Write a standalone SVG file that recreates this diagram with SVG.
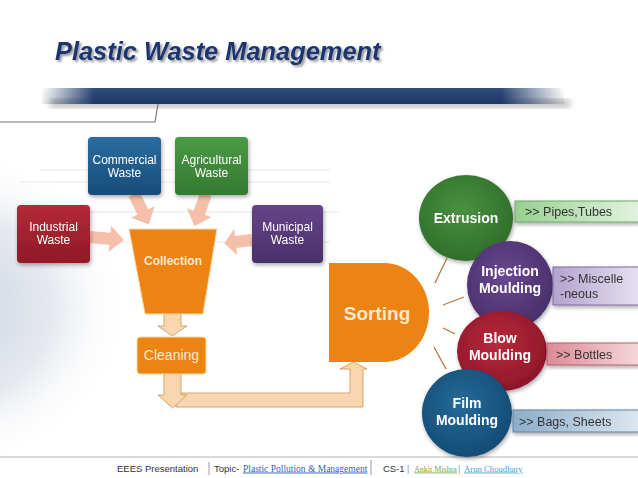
<svg xmlns="http://www.w3.org/2000/svg" xmlns:xlink="http://www.w3.org/1999/xlink" width="638" height="478" viewBox="0 0 638 478">
<defs>
<style>
.nt{font-family:"Liberation Sans",Arial,sans-serif;font-size:12px;fill:#fff;text-anchor:middle}
.ct{font-family:"Liberation Sans",Arial,sans-serif;font-size:14px;font-weight:bold;fill:#fff;text-anchor:middle}
.lt{font-family:"Liberation Sans",Arial,sans-serif;font-size:12.5px;fill:#333}
.ft{font-family:"Liberation Sans",Arial,sans-serif;font-size:9.5px;fill:#333}
.in{fill:#f4b8a0;opacity:0.9}
.tan{fill:#f7d6b0;stroke:#d6a468;stroke-width:1}
.sl{stroke:#b27b3c;stroke-width:1.3;fill:none}
</style>
<filter id="sh" x="-20%" y="-20%" width="140%" height="140%"><feGaussianBlur in="SourceAlpha" stdDeviation="2"/><feOffset dx="1" dy="2"/><feComponentTransfer><feFuncA type="linear" slope="0.35"/></feComponentTransfer><feMerge><feMergeNode/><feMergeNode in="SourceGraphic"/></feMerge></filter>
<filter id="tsh" x="-5%" y="-30%" width="110%" height="160%"><feGaussianBlur in="SourceAlpha" stdDeviation="0.8"/><feOffset dx="2" dy="2"/><feComponentTransfer><feFuncA type="linear" slope="0.4"/></feComponentTransfer><feMerge><feMergeNode/><feMergeNode in="SourceGraphic"/></feMerge></filter>
<filter id="bl"><feGaussianBlur stdDeviation="3"/></filter>
<linearGradient id="bar" x1="0" x2="1" y1="0" y2="0"><stop offset="0" stop-color="#1e3c6e" stop-opacity="0"/><stop offset="0.1" stop-color="#1e3c6e"/><stop offset="0.88" stop-color="#1e3c6e"/><stop offset="1" stop-color="#1e3c6e" stop-opacity="0"/></linearGradient>
<linearGradient id="barv" x1="0" x2="0" y1="0" y2="1"><stop offset="0" stop-color="#fff" stop-opacity="0.15"/><stop offset="1" stop-color="#000" stop-opacity="0.1"/></linearGradient>
<radialGradient id="bg" cx="0" cy="0.55" r="0.45"><stop offset="0" stop-color="#c9d0dc"/><stop offset="0.6" stop-color="#e6e9ef"/><stop offset="1" stop-color="#fff" stop-opacity="0"/></radialGradient>
<linearGradient id="gBlue" x1="0" x2="0" y1="0" y2="1"><stop offset="0" stop-color="#2a6d9f"/><stop offset="1" stop-color="#174d7a"/></linearGradient>
<linearGradient id="gGreen" x1="0" x2="0" y1="0" y2="1"><stop offset="0" stop-color="#4a9a44"/><stop offset="1" stop-color="#347a31"/></linearGradient>
<linearGradient id="gRed" x1="0" x2="0" y1="0" y2="1"><stop offset="0" stop-color="#b42a38"/><stop offset="1" stop-color="#8e1a27"/></linearGradient>
<linearGradient id="gPurp" x1="0" x2="0" y1="0" y2="1"><stop offset="0" stop-color="#664488"/><stop offset="1" stop-color="#4b2f6a"/></linearGradient>
<radialGradient id="cGreen" cx="0.45" cy="0.4" r="0.6"><stop offset="0" stop-color="#4a9140"/><stop offset="1" stop-color="#2f6f2a"/></radialGradient>
<radialGradient id="cPurp" cx="0.45" cy="0.4" r="0.6"><stop offset="0" stop-color="#6a4890"/><stop offset="1" stop-color="#4a2f6c"/></radialGradient>
<radialGradient id="cRed" cx="0.45" cy="0.4" r="0.6"><stop offset="0" stop-color="#b82a3c"/><stop offset="1" stop-color="#8e1729"/></radialGradient>
<radialGradient id="cBlue" cx="0.45" cy="0.4" r="0.6"><stop offset="0" stop-color="#246a98"/><stop offset="1" stop-color="#154c75"/></radialGradient>
<linearGradient id="lGreen" x1="0" x2="1"><stop offset="0" stop-color="#98d090"/><stop offset="1" stop-color="#e2f2df"/></linearGradient>
<linearGradient id="lPurp" x1="0" x2="1"><stop offset="0" stop-color="#b3a3cf"/><stop offset="1" stop-color="#e6e0f0"/></linearGradient>
<linearGradient id="lRed" x1="0" x2="1"><stop offset="0" stop-color="#dd8a96"/><stop offset="1" stop-color="#f5d8dc"/></linearGradient>
<linearGradient id="lBlue" x1="0" x2="1"><stop offset="0" stop-color="#8cadc9"/><stop offset="1" stop-color="#dce7f1"/></linearGradient>
<path id="arr" d="M0,-6 H20 V-13 L34,0 L20,13 V6 H0 Z"/>
</defs>

<rect width="638" height="478" fill="#fff"/>
<rect x="-60" y="110" width="420" height="360" fill="url(#bg)"/>
<g stroke="#dde1e7" stroke-width="1.2" opacity="0.8">
<line x1="40" y1="170" x2="330" y2="170"/><line x1="20" y1="182" x2="330" y2="182"/><line x1="60" y1="212" x2="340" y2="212"/><line x1="80" y1="242" x2="330" y2="242"/>
</g>

<!-- header -->
<g id="title">
<text x="55" y="60" font-family="'Liberation Sans',Arial,sans-serif" font-size="25.4" font-weight="bold" font-style="italic" fill="#1b3670" filter="url(#tsh)">Plastic Waste Management</text>
</g>
<g id="header-bar">
<rect x="50" y="99" width="520" height="9" fill="#555" opacity="0.35" filter="url(#bl)"/>
<rect x="42" y="88" width="522" height="16" fill="url(#bar)"/>
<rect x="42" y="88" width="522" height="16" fill="url(#barv)" opacity="0.6"/>
<path d="M0,122 H155 L158,104" fill="none" stroke="#777" stroke-width="1.2"/>
</g>

<!-- connectors -->
<g id="connectors">
<use href="#arr" class="in" transform="translate(134,194) rotate(64)"/>
<use href="#arr" class="in" transform="translate(206,194) rotate(110)"/>
<use href="#arr" class="in" transform="translate(90,237) rotate(5)"/>
<use href="#arr" class="in" transform="translate(252,240) rotate(173) scale(0.82,1)"/>
<path class="tan" d="M164,314 H181 V326 H187 L172.5,336 L158,326 H164 Z"/>
<path class="tan" d="M176,393 H350 V369 H340 L353.5,362 L367,369 H363 V407 H176 Z"/>
<path class="tan" d="M164,374 H181 V395 H187 L172.5,408 L158,395 H164 Z"/>
<line class="sl" x1="435" y1="283" x2="447" y2="258"/>
<line class="sl" x1="443" y1="305" x2="464" y2="297"/>
<line class="sl" x1="443" y1="328" x2="455" y2="334"/>
<line class="sl" x1="434" y1="347" x2="446" y2="369"/>
</g>

<!-- source nodes -->
<g id="commercial" filter="url(#sh)">
<rect x="88" y="137" width="73" height="58" rx="4" fill="url(#gBlue)"/>
<text class="nt" x="124.5" y="164">Commercial</text><text class="nt" x="124.5" y="177">Waste</text>
</g>
<g id="agricultural" filter="url(#sh)">
<rect x="175" y="137" width="73" height="58" rx="4" fill="url(#gGreen)"/>
<text class="nt" x="211.5" y="164">Agricultural</text><text class="nt" x="211.5" y="177">Waste</text>
</g>
<g id="industrial" filter="url(#sh)">
<rect x="17" y="205" width="73" height="58" rx="4" fill="url(#gRed)"/>
<text class="nt" x="53.5" y="231">Industrial</text><text class="nt" x="53.5" y="244">Waste</text>
</g>
<g id="municipal" filter="url(#sh)">
<rect x="252" y="205" width="71" height="58" rx="4" fill="url(#gPurp)"/>
<text class="nt" x="287.5" y="231">Municipal</text><text class="nt" x="287.5" y="244">Waste</text>
</g>

<g id="collection">
<path d="M129,229 H217 L203,314 H145 Z" fill="#ec8312" stroke="#f8d9b0" stroke-width="1"/>
<text x="173" y="265" font-family="'Liberation Sans',Arial,sans-serif" font-size="12" font-weight="bold" fill="#fde8d0" text-anchor="middle">Collection</text>
</g>
<g id="cleaning">
<rect x="137" y="337" width="69" height="37" rx="3" fill="#ec8312" stroke="#f8d9b0" stroke-width="1"/>
<text x="171.5" y="360" font-family="'Liberation Sans',Arial,sans-serif" font-size="14" fill="#fde8d0" text-anchor="middle">Cleaning</text>
</g>
<g id="sorting">
<path d="M329,263 H384 A45,49.5 0 0 1 384,362 H329 Z" fill="#ec8312"/>
<text x="377" y="320" font-family="'Liberation Sans',Arial,sans-serif" font-size="19" font-weight="bold" fill="#fde8d0" text-anchor="middle">Sorting</text>
</g>

<!-- process circles -->
<g id="extrusion" filter="url(#sh)">
<ellipse cx="466" cy="218" rx="47" ry="43" fill="url(#cGreen)"/>
<text class="ct" x="466" y="223">Extrusion</text>
</g>
<g id="injection" filter="url(#sh)">
<ellipse cx="510" cy="285" rx="43" ry="44" fill="url(#cPurp)"/>
<text class="ct" x="510" y="276">Injection</text><text class="ct" x="510" y="293">Moulding</text>
</g>
<g id="blow" filter="url(#sh)">
<ellipse cx="502" cy="351" rx="45" ry="40" fill="url(#cRed)"/>
<text class="ct" x="500" y="343">Blow</text><text class="ct" x="500" y="360">Moulding</text>
</g>

<!-- footer -->
<g id="footer">
<rect x="-1" y="457" width="640" height="22" fill="#fff" stroke="#b5b5b5" stroke-width="1"/>
<text class="ft" x="117" y="471.5">EEES Presentation</text>
<line x1="209" y1="462" x2="209" y2="475" stroke="#999" stroke-width="1"/>
<text class="ft" x="214" y="471.5">Topic-</text>
<text x="243" y="471.5" font-family="'Liberation Serif','Times New Roman',serif" font-size="9.5" fill="#3a5fb0" text-decoration="underline">Plastic Pollution &amp; Management</text>
<line x1="371" y1="460" x2="371" y2="475" stroke="#999" stroke-width="1"/>
<text class="ft" x="383" y="471.5">CS-1</text>
<text x="407" y="471.5" font-family="'Liberation Sans',Arial,sans-serif" font-size="9" fill="#999">|</text>
<text x="414" y="471.5" font-family="'Liberation Serif','Times New Roman',serif" font-size="8" fill="#7aa340" text-decoration="underline">Ankit Mishra</text>
<text x="458" y="471.5" font-family="'Liberation Sans',Arial,sans-serif" font-size="9" fill="#999">|</text>
<text x="464" y="471.5" font-family="'Liberation Serif','Times New Roman',serif" font-size="8.7" fill="#4aa2d4" text-decoration="underline">Arun Choudhary</text>
</g>

<g id="film" filter="url(#sh)">
<ellipse cx="467" cy="413" rx="45" ry="44" fill="url(#cBlue)"/>
<text class="ct" x="467" y="408">Film</text><text class="ct" x="467" y="425">Moulding</text>
</g>

<!-- labels -->
<g id="label-pipes" filter="url(#sh)">
<rect x="515" y="201" width="124" height="21" fill="url(#lGreen)" stroke="#6fa86a" stroke-width="1"/>
<text class="lt" x="525" y="216">&gt;&gt; Pipes,Tubes</text>
</g>
<g id="label-misc" filter="url(#sh)">
<rect x="553" y="267" width="86" height="38" fill="url(#lPurp)" stroke="#7e6aa3" stroke-width="1"/>
<text class="lt" x="560" y="283">&gt;&gt; Miscelle</text><text class="lt" x="560" y="298">-neous</text>
</g>
<g id="label-bottles" filter="url(#sh)">
<rect x="547" y="343" width="92" height="22" fill="url(#lRed)" stroke="#b5606c" stroke-width="1"/>
<text class="lt" x="556" y="358.5">&gt;&gt; Bottles</text>
</g>
<g id="label-bags" filter="url(#sh)">
<rect x="513" y="410" width="126" height="22" fill="url(#lBlue)" stroke="#5f82a2" stroke-width="1"/>
<text class="lt" x="519" y="425.5">&gt;&gt; Bags, Sheets</text>
</g>
</svg>
